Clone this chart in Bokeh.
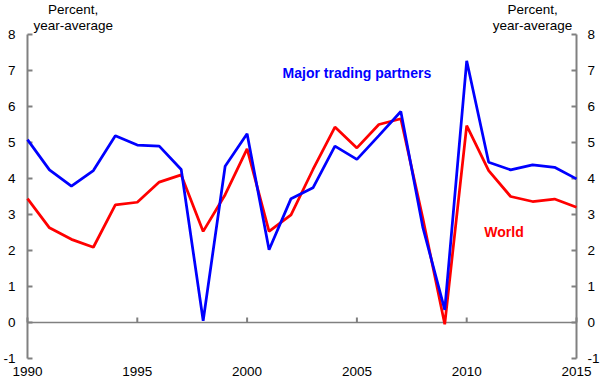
import math
from bokeh.plotting import figure
from bokeh.models import LinearAxis, FixedTicker, Label, Range1d
from bokeh.embed import file_html
from bokeh.resources import INLINE

years = list(range(1990, 2016))
major_trading_partners = [5.08, 4.24, 3.79, 4.22, 5.19, 4.93, 4.90, 4.25, 0.05, 4.34,
                          5.24, 2.02, 3.44, 3.74, 4.90, 4.53, 5.19, 5.86, 2.65, 0.35,
                          7.27, 4.45, 4.24, 4.38, 4.31, 3.99]
world = [3.44, 2.63, 2.31, 2.09, 3.27, 3.34, 3.90, 4.10, 2.53, 3.55,
         4.82, 2.53, 2.99, 4.25, 5.43, 4.85, 5.50, 5.66, 2.90, -0.05,
         5.47, 4.22, 3.50, 3.36, 3.43, 3.20]
x_ticks = [1990, 1995, 2000, 2005, 2010, 2015]
y_ticks = [-1, 0, 1, 2, 3, 4, 5, 6, 7, 8]
y_tick_labels = {t: str(t) for t in y_ticks}
x_start, x_end = 1990, 2015
y_start, y_end = -1, 8

FONT = "Liberation Sans"
GREY = "#808080"

p = figure(width=602, height=382, output_backend="svg", toolbar_location=None,
           x_range=Range1d(x_start - 0.0906, x_end + 0.0906),
           y_range=Range1d(y_start - 0.0556, y_end + 0.944),
           min_border_left=23, min_border_right=23, min_border_top=0, min_border_bottom=22)
p.outline_line_color = None
p.xgrid.visible = False
p.ygrid.visible = False

def style_y(ax, standoff):
    ax.ticker = FixedTicker(ticks=y_ticks)
    ax.major_label_overrides = y_tick_labels
    ax.axis_line_color = None
    ax.major_tick_line_color = None
    ax.major_tick_in = 0
    ax.major_tick_out = 0
    ax.minor_tick_line_color = None
    ax.major_label_text_font = FONT
    ax.major_label_text_font_size = "13.5px"
    ax.major_label_text_color = "black"
    ax.major_label_standoff = standoff

style_y(p.yaxis[0], 10)
yr = LinearAxis()
style_y(yr, 9)
p.add_layout(yr, "right")

xl = p.xaxis[0]
xl.ticker = FixedTicker(ticks=x_ticks)
xl.axis_line_color = None
xl.major_tick_line_color = None
xl.minor_tick_line_color = None
xl.major_tick_in = 0
xl.major_tick_out = 0
xl.major_label_text_font = FONT
xl.major_label_text_font_size = "13.5px"
xl.major_label_text_color = "black"
xl.major_label_standoff = 6

# axis rules (vertical axes and zero line)
p.segment(x0=[x_start, x_end], y0=[y_start, y_start], x1=[x_start, x_end], y1=[y_end, y_end],
          line_color=GREY, line_width=2)
p.segment(x0=[x_start], y0=[0], x1=[x_end], y1=[0], line_color=GREY, line_width=1.5)

# inward tick marks
p.ray(x=[x_start] * len(y_ticks), y=y_ticks, length=5, length_units="screen", angle=0,
      line_color=GREY, line_width=2)
p.ray(x=[x_end] * len(y_ticks), y=y_ticks, length=5, length_units="screen", angle=math.pi,
      line_color=GREY, line_width=2)
p.ray(x=x_ticks, y=[0] * len(x_ticks), length=5, length_units="screen", angle=math.pi / 2,
      line_color=GREY, line_width=2)

p.line(years, world, line_color="#FF0000", line_width=2.75)
p.line(years, major_trading_partners, line_color="#0000FF", line_width=2.75)

p.add_layout(Label(x=2005.0, y=6.917, text="Major trading partners", text_font=FONT,
                   text_font_size="14px", text_font_style="bold", text_color="#0000FF",
                   text_align="center", text_baseline="middle"))
p.add_layout(Label(x=2011.7, y=2.5, text="World", text_font=FONT,
                   text_font_size="14px", text_font_style="bold", text_color="#FF0000",
                   text_align="center", text_baseline="middle"))

for xc in (1992.08, 2013.0):
    p.add_layout(Label(x=xc, y=8.694, text="Percent,", text_font=FONT,
                       text_font_size="13.5px", text_color="black",
                       text_align="center", text_baseline="middle"))
    p.add_layout(Label(x=xc, y=8.25, text="year-average", text_font=FONT,
                       text_font_size="13.5px", text_color="black",
                       text_align="center", text_baseline="middle"))

open("out.html", "w").write(file_html(p, INLINE))
